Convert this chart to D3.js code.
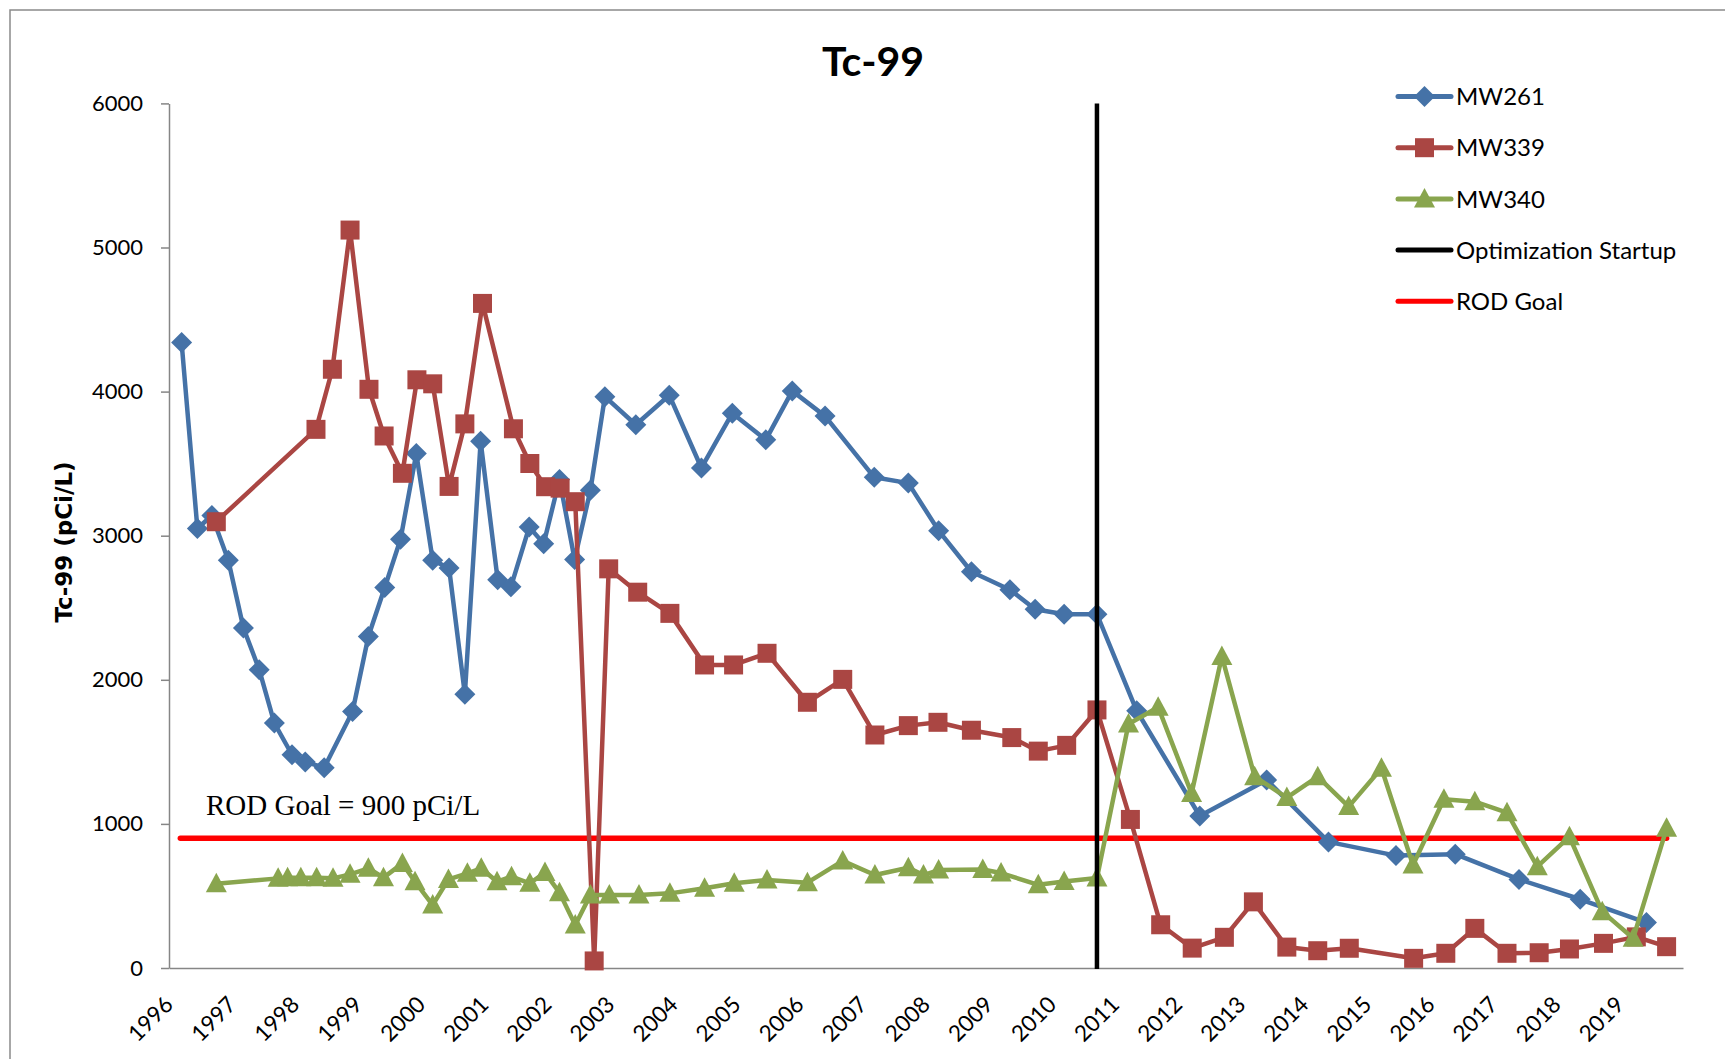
<!DOCTYPE html>
<html>
<head>
<meta charset="utf-8">
<script src="https://cdn.jsdelivr.net/npm/d3@7"></script>
<style>
  html, body { margin: 0; padding: 0; background: #fff; }
  svg { display: block; }
</style>
</head>
<body>
<svg id="chart" width="1725" height="1059"></svg>
<script>
// ---------------- DATA ----------------
const yearTicks = [1996,1997,1998,1999,2000,2001,2002,2003,2004,2005,2006,2007,2008,2009,2010,2011,2012,2013,2014,2015,2016,2017,2018,2019];
const valueTicks = [0,1000,2000,3000,4000,5000,6000];

const mw261Years = [1996.20,1996.45,1996.68,1996.94,1997.18,1997.43,1997.67,1997.95,1998.16,1998.46,1998.91,1999.16,1999.42,1999.67,1999.92,2000.18,2000.44,2000.69,2000.94,2001.21,2001.42,2001.71,2001.94,2002.19,2002.43,2002.68,2002.91,2003.40,2003.93,2004.44,2004.93,2005.46,2005.88,2006.40,2007.18,2007.72,2008.20,2008.72,2009.33,2009.73,2010.19,2010.71,2011.34,2012.34,2013.40,2014.38,2015.45,2016.39,2017.40,2018.37,2019.42];
const mw261Values = [4340,3050,3140,2830,2360,2070,1700,1480,1430,1390,1780,2300,2640,2975,3570,2830,2775,1900,3655,2695,2645,3060,2945,3390,2835,3315,3965,3770,3975,3470,3850,3665,4005,3830,3405,3365,3035,2750,2625,2490,2455,2455,1785,1055,1305,875,780,790,615,477,315];

const mw339Years = [1996.75,1998.33,1998.59,1998.87,1999.17,1999.41,1999.70,1999.93,2000.18,2000.44,2000.69,2000.97,2001.46,2001.72,2001.97,2002.20,2002.44,2002.74,2002.97,2003.43,2003.94,2004.49,2004.95,2005.48,2006.12,2006.68,2007.19,2007.72,2008.19,2008.72,2009.36,2009.78,2010.23,2010.71,2011.24,2011.72,2012.22,2012.73,2013.19,2013.72,2014.21,2014.71,2015.73,2016.24,2016.70,2017.21,2017.72,2018.20,2018.74,2019.26,2019.74];
const mw339Values = [3097,3738,4155,5121,4016,3692,3433,4082,4054,3342,3776,4612,3742,3501,3340,3330,3236,49,2770,2608,2461,2103,2103,2184,1844,2003,1617,1682,1705,1650,1599,1505,1545,1791,1031,300,138,213,459,145,120,137,67,102,275,102,106,132,171,216,148];

const mw340Years = [1996.75,1997.73,1997.88,1998.09,1998.34,1998.60,1998.87,1999.16,1999.40,1999.70,1999.90,2000.18,2000.43,2000.73,2000.95,2001.20,2001.43,2001.72,2001.96,2002.19,2002.44,2002.68,2002.98,2003.45,2003.94,2004.49,2004.96,2005.48,2006.12,2006.68,2007.19,2007.72,2007.96,2008.20,2008.90,2009.19,2009.78,2010.19,2010.71,2011.21,2011.68,2012.21,2012.69,2013.21,2013.72,2014.21,2014.70,2015.22,2015.72,2016.21,2016.70,2017.21,2017.69,2018.20,2018.72,2019.21,2019.74];
const mw340Values = [585,622,627,627,627,622,650,692,627,726,599,437,615,657,692,599,634,588,662,523,298,507,507,507,518,553,588,611,592,743,645,696,645,680,683,659,577,600,624,1693,1810,1211,2162,1328,1183,1328,1120,1386,715,1171,1154,1078,703,911,391,206,969];

const startupYear = 2010.71;
const rodGoalValue = 900;
const rodGoalYears = [1996.18, 2019.74];

const seriesNames = ["MW261","MW339","MW340"];
const seriesColors = ["#4572A7","#AA4643","#89A54E"];
const legendNames = ["MW261","MW339","MW340","Optimization Startup","ROD Goal"];

// ---------------- CHART ----------------
const svg = d3.select("#chart");
const x = d3.scaleLinear().domain([1996, 2020]).range([169, 1683]);
const y = d3.scaleLinear().domain([0, 6000]).range([968, 103.4]);

// outer border
svg.append("rect").attr("x",10).attr("y",10).attr("width",1740).attr("height",1080)
  .attr("fill","none").attr("stroke","#8a8a8a").attr("stroke-width",1.5);

// title
svg.append("text").attr("x",873).attr("y",76).attr("text-anchor","middle")
  .attr("font-family","Lato, sans-serif").attr("font-weight","bold").attr("font-size",41)
  .attr("fill","#000").text("Tc-99");

// Y axis
const yAxis = d3.axisLeft(y).tickValues(valueTicks).tickSize(8).tickSizeOuter(0).tickPadding(18).tickFormat(d3.format("d"));
const gy = svg.append("g").attr("transform","translate(169,0)").call(yAxis);
gy.select(".domain").attr("stroke","#868686").attr("stroke-width",1.5);
gy.selectAll(".tick line").attr("stroke","#868686").attr("stroke-width",1.5);
gy.selectAll(".tick text").attr("font-family","Lato, sans-serif").attr("font-size",22).attr("fill","#000");

// X axis
const xAxis = d3.axisBottom(x).tickValues(yearTicks).tickSize(0).tickSizeOuter(0).tickFormat(d3.format("d"));
const gx = svg.append("g").attr("transform","translate(0,968)").call(xAxis);
gx.select(".domain").attr("stroke","#868686").attr("stroke-width",1.5);
gx.selectAll(".tick text")
  .attr("font-family","Lato, sans-serif").attr("font-size",22.5).attr("fill","#000")
  .attr("text-anchor","end").attr("dy",null).attr("y",0)
  .attr("transform","translate(5,38) rotate(-45)");

// Y axis title
svg.append("text").attr("transform","translate(64,542) rotate(-90)")
  .attr("text-anchor","middle").attr("dominant-baseline","central")
  .attr("font-family","'DejaVu Sans', sans-serif").attr("font-weight","bold").attr("font-size",23)
  .attr("fill","#000").text("Tc-99 (pCi/L)");

// ROD goal line
svg.append("line")
  .attr("x1", x(rodGoalYears[0])).attr("x2", x(rodGoalYears[1]))
  .attr("y1", y(rodGoalValue)).attr("y2", y(rodGoalValue))
  .attr("stroke","#FF0000").attr("stroke-width",5.5).attr("stroke-linecap","round");

svg.append("text").attr("x",206).attr("y",815)
  .attr("font-family","'Liberation Serif', 'Times New Roman', serif").attr("font-size",29)
  .attr("fill","#000").text("ROD Goal = 900 pCi/L");

// marker shapes
function markerPath(i) {
  if (i === 0) return "M0,-10.5L10.5,0L0,10.5L-10.5,0Z";
  if (i === 1) return "M-9.5,-9.5H9.5V9.5H-9.5Z";
  return "M0,-11L10.5,8.5L-10.5,8.5Z";
}

const allYears = [mw261Years, mw339Years, mw340Years];
const allValues = [mw261Values, mw339Values, mw340Values];
const line = d3.line().x(d => x(d[0])).y(d => y(d[1]));

allYears.forEach((yrs, i) => {
  const pts = yrs.map((yr, k) => [yr, allValues[i][k]]);
  const g = svg.append("g");
  g.append("path").attr("d", line(pts)).attr("fill","none")
    .attr("stroke", seriesColors[i]).attr("stroke-width",4.5).attr("stroke-linejoin","round");
  g.selectAll("path.m").data(pts).join("path").attr("class","m")
    .attr("d", markerPath(i))
    .attr("transform", d => `translate(${x(d[0])},${y(d[1])})`)
    .attr("fill", seriesColors[i]);
});

// Optimization startup vertical line
svg.append("line")
  .attr("x1", x(startupYear)).attr("x2", x(startupYear))
  .attr("y1", y(6000)).attr("y2", y(0) + 1)
  .attr("stroke","#000").attr("stroke-width",4.5);

// Legend
const legColors = [seriesColors[0], seriesColors[1], seriesColors[2], "#000000", "#FF0000"];
const leg = svg.append("g");
legendNames.forEach((name, i) => {
  const cy = 96.5 + i * 51.2;
  const g = leg.append("g").attr("transform", `translate(0,${cy})`);
  g.append("line").attr("x1",1398).attr("x2",1451).attr("y1",0).attr("y2",0)
    .attr("stroke", legColors[i]).attr("stroke-width",5).attr("stroke-linecap","round");
  if (i < 3) {
    g.append("path").attr("d", markerPath(i)).attr("transform","translate(1424.5,0)").attr("fill", legColors[i]);
  }
  g.append("text").attr("x",1456).attr("y",0).attr("dy","0.36em")
    .attr("font-family","Lato, sans-serif").attr("font-size",24).attr("fill","#000").text(name);
});
</script>
</body>
</html>
